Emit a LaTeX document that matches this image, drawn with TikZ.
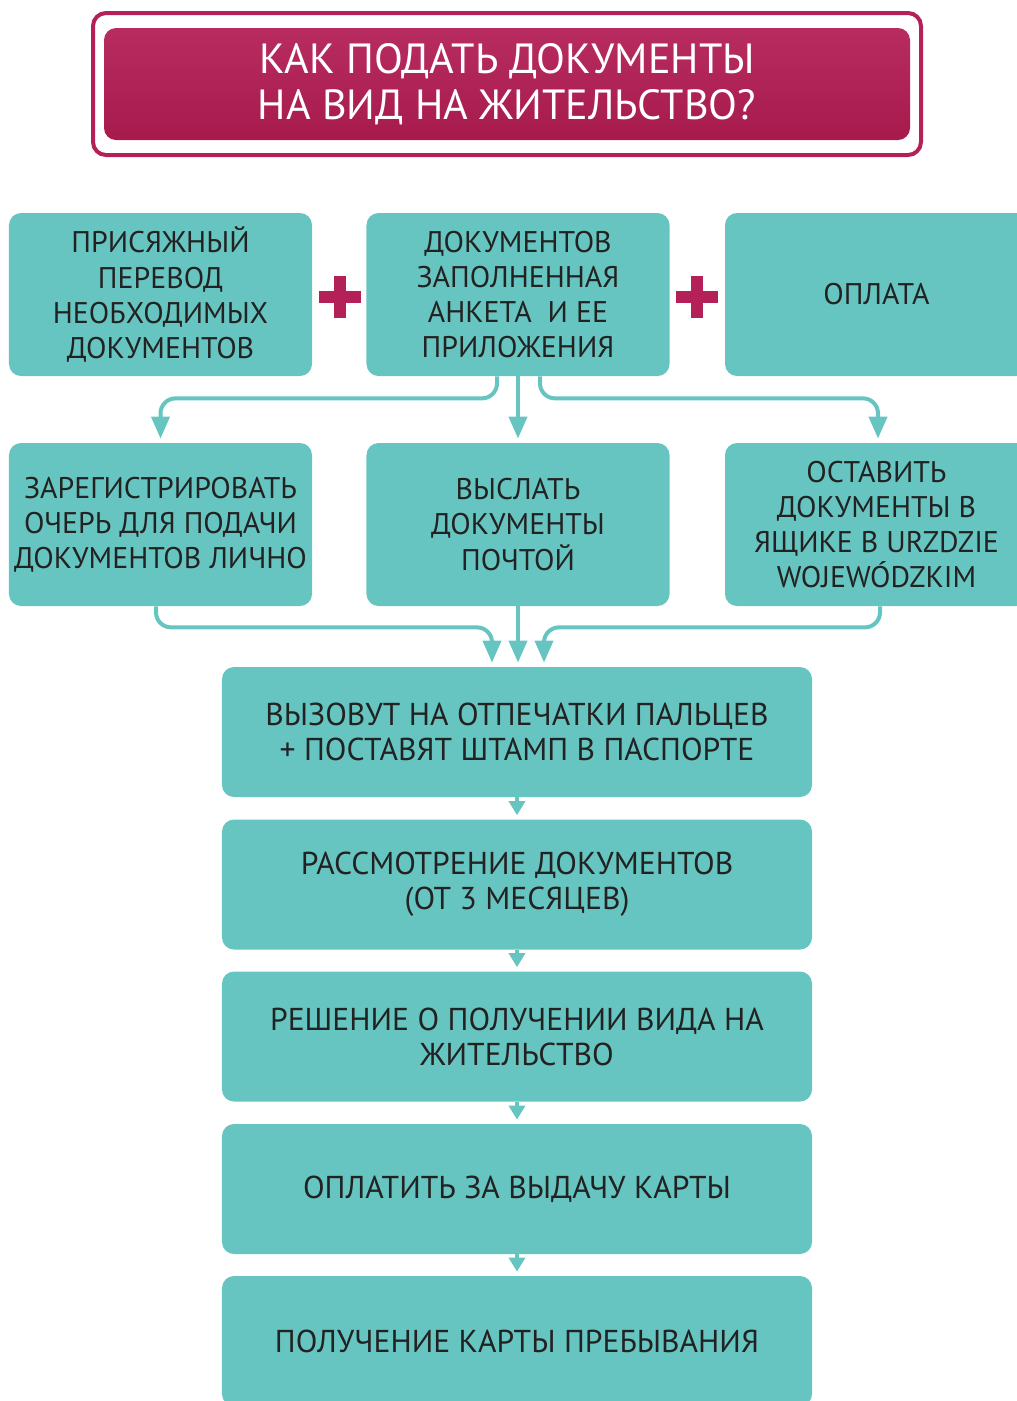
\documentclass[tikz,border=0pt]{standalone}
\usepackage{fontspec}
\setmainfont{PT Sans}
\usepackage{tikz}
\usetikzlibrary{arrows.meta}

\definecolor{teal}{RGB}{103,197,193}
\definecolor{crim}{RGB}{180,33,88}
\definecolor{crimdark}{RGB}{166,26,76}
\definecolor{ink}{RGB}{34,34,34}

\tikzset{
    box/.style = {fill=teal, rounded corners=2.4mm, align=center, text=ink, inner sep=0pt},
    smallbox/.style = {box, minimum width=60.6mm, minimum height=32.6mm,
        font = {\fontsize{17}{20}\selectfont}},
    widebox/.style = {box, minimum width=118mm, minimum height=26mm,
        font = {\fontsize{18}{20}\selectfont}},
    link/.style = {draw=teal, line width=0.8mm, rounded corners=3mm,
        -{Triangle[width=3.6mm,length=4.4mm]}, shorten >=0.8mm},
    steplink/.style = {draw=teal, line width=0.8mm,
        -{Triangle[width=3.2mm,length=2.8mm]}, shorten >=0.8mm},
}

\begin{document}
\begin{tikzpicture}[x=0.2mm, y=-0.2mm]
    \useasboundingbox (0, 0) rectangle (1017, 1401);
    \clip (0, 0) rectangle (1017, 1401);

    \draw[crim, line width=0.8mm, rounded corners=2.6mm] (93, 13) rectangle (921, 155);
    \shade[top color=crim!95!white, bottom color=crimdark, rounded corners=2.4mm] (104, 28) rectangle (910, 140);
    \node[align=center, white, font = {\fontsize{24}{26.5}\selectfont}] (title) at (507, 84) {КАК ПОДАТЬ ДОКУМЕНТЫ\\НА ВИД НА ЖИТЕЛЬСТВО?};

    \node[smallbox] (sworn) at (160.5, 294.5) {ПРИСЯЖНЫЙ\\ПЕРЕВОД\\НЕОБХОДИМЫХ\\ДОКУМЕНТОВ};
    \node[smallbox] (docs) at (518, 294.5) {ДОКУМЕНТОВ\\ЗАПОЛНЕННАЯ\\АНКЕТА \ И ЕЕ\\ПРИЛОЖЕНИЯ};
    \node[smallbox] (pay) at (876.5, 294.5) {ОПЛАТА};

    \foreach \px in {340, 697} {
        \fill[crim] (\px-21, 291) rectangle (\px+21, 303);
        \fill[crim] (\px-6, 276) rectangle (\px+6, 318);
    }

    \node[smallbox] (queue) at (160.5, 524.5) {ЗАРЕГИСТРИРОВАТЬ\\ОЧЕРЬ ДЛЯ ПОДАЧИ\\ДОКУМЕНТОВ ЛИЧНО};
    \node[smallbox] (post) at (518, 524.5) {ВЫСЛАТЬ\\ДОКУМЕНТЫ\\ПОЧТОЙ};
    \node[smallbox] (drop) at (876.5, 524.5) {ОСТАВИТЬ\\ДОКУМЕНТЫ В\\ЯЩИКЕ В URZDZIE\\WOJEWÓDZKIM};

    \node[widebox] (finger) at (517, 732) {ВЫЗОВУТ НА ОТПЕЧАТКИ ПАЛЬЦЕВ\\+ ПОСТАВЯТ ШТАМП В ПАСПОРТЕ};
    \node[widebox] (review) at (517, 884.5) {РАССМОТРЕНИЕ ДОКУМЕНТОВ\\(ОТ 3 МЕСЯЦЕВ)};
    \node[widebox] (decision) at (517, 1036.5) {РЕШЕНИЕ О ПОЛУЧЕНИИ ВИДА НА\\ЖИТЕЛЬСТВО};
    \node[widebox] (fee) at (517, 1189) {ОПЛАТИТЬ ЗА ВЫДАЧУ КАРТЫ};
    \node[widebox] (card) at (517, 1341) {ПОЛУЧЕНИЕ КАРТЫ ПРЕБЫВАНИЯ};

    \draw[link] ([xshift=-4.2mm]docs.south) -- ++(0, 22) -| (queue.north);
    \draw[link] (docs.south) -- (post.north);
    \draw[link] ([xshift=4.4mm]docs.south) -- ++(0, 22) -| ([xshift=0.3mm]drop.north);

    \draw[link] ([xshift=-0.9mm]queue.south) -- ++(0, 21) -| ([xshift=-5mm]finger.north);
    \draw[link] (post.south) -- (post.south |- finger.north);
    \draw[link] ([xshift=0.7mm]drop.south) -- ++(0, 21) -| ([xshift=5.4mm]finger.north);

    \draw[steplink] (finger) -- (review);
    \draw[steplink] (review) -- (decision);
    \draw[steplink] (decision) -- (fee);
    \draw[steplink] (fee) -- (card);
\end{tikzpicture}
\end{document}
